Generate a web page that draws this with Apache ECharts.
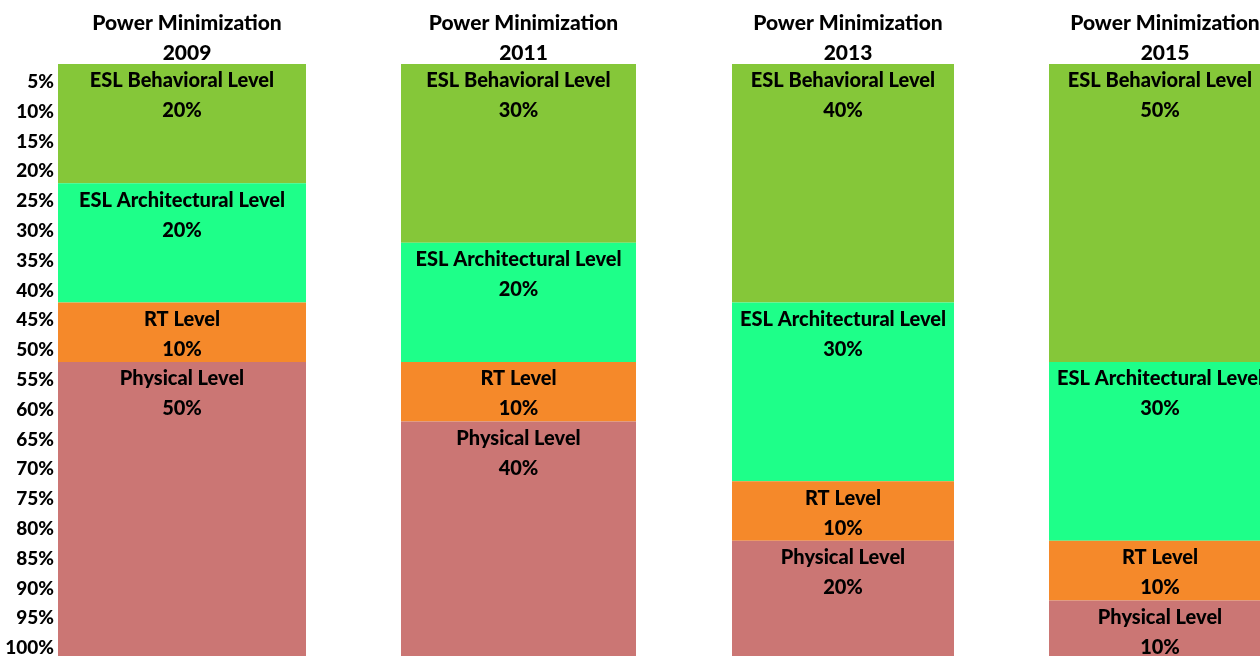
<!DOCTYPE html>
<html lang="en">
<head>
  <meta charset="UTF-8">
  <title>Power Minimization</title>
  <script src="https://cdn.jsdelivr.net/npm/echarts@6/dist/echarts.min.js"></script>
  <style>
    html, body { margin: 0; padding: 0; background: #fff; }
    #wrap { width: 1260px; height: 656px; }
  </style>
</head>
<body>
<div id="wrap"></div>
<script>
  // data
  const years = ["2009", "2011", "2013", "2015"]
  const levels = ["ESL Behavioral Level", "ESL Architectural Level", "RT Level", "Physical Level"]
  const behavioral = [20, 30, 40, 50]
  const architectural = [20, 20, 30, 30]
  const rtLevel = [10, 10, 10, 10]
  const physical = [50, 40, 20, 10]
  const tickLabels = ["5%", "10%", "15%", "20%", "25%", "30%", "35%", "40%", "45%", "50%",
    "55%", "60%", "65%", "70%", "75%", "80%", "85%", "90%", "95%", "100%"]

  const values = [behavioral, architectural, rtLevel, physical]
  const colors = ["#85c739", "#1eff89", "#f5892a", "#cb7674"]

  // each column sits in its own grid (widths differ a little)
  const boxes = [
    { left: 58, width: 248 },
    { left: 401, width: 235 },
    { left: 732, width: 222 },
    { left: 1049, width: 222 }
  ]
  const font = "Lato"
  const weight = 900

  const chart = echarts.init(document.querySelector("#wrap"))

  const grid = [], xAxis = [], yAxis = [], title = [], series = []

  years.forEach((year, i) => {
    const b = boxes[i]
    grid.push({ left: b.left, width: b.width, top: 64, height: 596, outerBoundsMode: "none" })
    xAxis.push({ type: "category", gridIndex: i, data: [year], show: false })
    yAxis.push({ type: "value", gridIndex: i, min: 0, max: 100, inverse: true, show: false })
    title.push({
      text: "Power Minimization\n" + year,
      left: b.left + b.width / 2,
      top: 3,
      textAlign: "center",
      textStyle: { fontFamily: font, fontWeight: weight, fontSize: 21, lineHeight: 30, color: "#000" }
    })
    levels.forEach((lv, k) => {
      series.push({
        name: lv,
        type: "bar",
        xAxisIndex: i,
        yAxisIndex: i,
        stack: "col" + i,
        barWidth: "100%",
        itemStyle: { color: colors[k] },
        label: {
          show: true,
          position: "insideTop",
          distance: 2,
          formatter: "{a}\n{c}%",
          fontFamily: font,
          fontWeight: weight,
          fontSize: 20,
          lineHeight: 30,
          color: "#000"
        },
        data: [values[k][i]]
      })
    })
  })

  // percentage labels on the left, centred in their 5% bands
  // (own grid, nudged down a little so the digits sit like the reference)
  grid.push({ left: 58, width: 248, top: 67, height: 596, outerBoundsMode: "none" })
  xAxis.push({ type: "category", gridIndex: 4, data: [""], show: false })
  yAxis.push({
    type: "category",
    gridIndex: 4,
    position: "left",
    inverse: true,
    data: tickLabels,
    boundaryGap: true,
    axisLine: { show: false },
    axisTick: { show: false },
    splitLine: { show: false },
    axisLabel: {
      margin: 4,
      fontFamily: font,
      fontWeight: weight,
      fontSize: 19,
      color: "#000"
    }
  })

  chart.setOption({
    animation: false,
    title: title,
    grid: grid,
    xAxis: xAxis,
    yAxis: yAxis,
    series: series
  })
</script>
</body>
</html>
